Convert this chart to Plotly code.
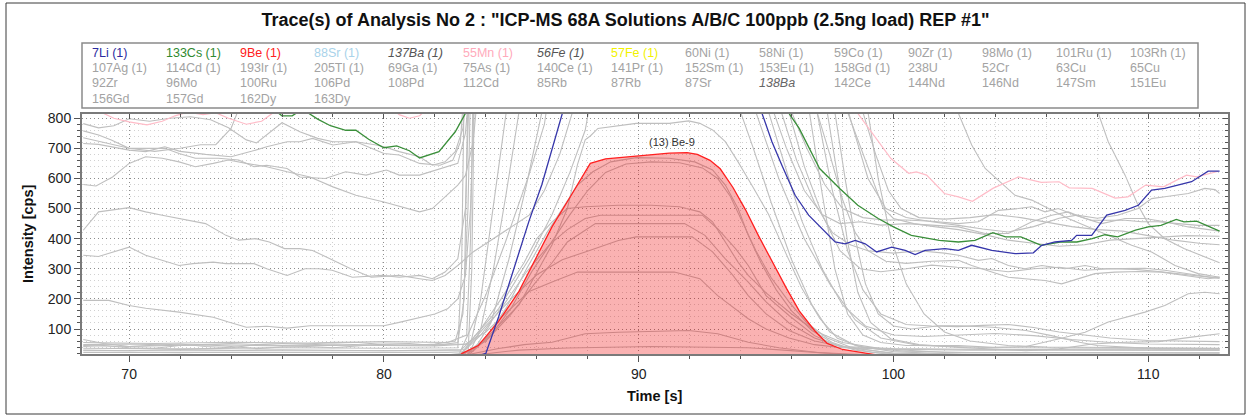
import plotly.graph_objects as go

FONT = "Liberation Sans, Arial, sans-serif"
TITLE = 'Trace(s) of Analysis No 2 : "ICP-MS 68A Solutions A/B/C 100ppb (2.5ng load) REP #1"'
X_TITLE = "Time [s]"
Y_TITLE = "Intensity [cps]"
PEAK_LABEL = "(13) Be-9"
X_RANGE = [68.15, 113.13]
Y_RANGE = [17, 814]

# ---------------- legend texts ----------------
legend_row1 = ["7Li (1)", "133Cs (1)", "9Be (1)", "88Sr (1)", "<i>137Ba (1)</i>", "55Mn (1)",
               "<i>56Fe (1)</i>", "57Fe (1)", "60Ni (1)", "58Ni (1)", "59Co (1)", "90Zr (1)",
               "98Mo (1)", "101Ru (1)", "103Rh (1)"]
legend_row1_colors = ["#2b2ba0", "#2f8a2f", "#ff2020", "#a9d3ea", "#555555", "#ffaabb",
                      "#555555", "#f2f200", "#a3a3a3", "#a3a3a3", "#a3a3a3", "#a3a3a3",
                      "#a3a3a3", "#a3a3a3", "#a3a3a3"]
legend_row2 = ["107Ag (1)", "114Cd (1)", "193Ir (1)", "205Tl (1)", "69Ga (1)", "75As (1)",
               "140Ce (1)", "141Pr (1)", "152Sm (1)", "153Eu (1)", "158Gd (1)", "238U",
               "52Cr", "63Cu", "65Cu"]
legend_row3 = ["92Zr", "96Mo", "100Ru", "106Pd", "108Pd", "112Cd", "85Rb", "87Rb", "87Sr",
               "<i>138Ba</i>", "142Ce", "144Nd", "146Nd", "147Sm", "151Eu"]
legend_row4 = ["156Gd", "157Gd", "162Dy", "163Dy"]

# ---------------- coloured traces ----------------
t_li = [68.2, 83.0, 83.6, 84.0, 84.5, 85.2, 85.7, 86.2, 86.6, 87.0, 87.3, 94.6, 94.84, 95.23,
        95.62, 96.14, 96.67, 97.19, 97.71, 98.1, 98.5, 98.89, 99.34, 99.93, 100.46, 100.85,
        101.24, 102.02, 102.55, 103.07, 103.86, 104.77, 105.49, 105.82, 106.34, 106.99,
        107.19, 107.78, 108.37, 109.09, 109.61, 110.13, 110.65, 111.7, 112.35, 112.8]
v_li = [5, 5, 8, 19, 140, 330, 460, 580, 700, 815, 900, 900, 816, 722,
        644, 544, 478, 433, 389, 383, 394, 383, 356, 372, 361, 347,
        361, 367, 361, 378, 361, 350, 353, 378, 389, 394,
        411, 411, 478, 494, 511, 561, 567, 589, 624, 624]

t_cs = [68.2, 75.5, 76.0, 76.4, 76.8, 77.06, 77.4, 77.9, 78.5, 78.9, 79.4, 80.0, 80.5, 81.0,
        81.4, 82.16, 82.8, 83.2, 83.5, 95.6, 95.9, 96.3, 97.1, 97.9, 98.6, 99.4, 100.0,
        100.7, 101.8, 102.55, 103.2, 103.9, 104.4, 105.0, 105.8, 106.6, 107.2, 107.8,
        108.3, 108.8, 109.5, 110.0, 110.5, 111.1, 111.4, 111.9, 112.4, 112.8]
v_cs = [900, 840, 808, 808, 830, 816, 797, 775, 760, 760, 730, 702, 708, 692,
        668, 689, 755, 816, 900, 900, 816, 766, 633, 566, 511, 467, 439,
        411, 394, 389, 394, 420, 406, 406, 378, 389, 389, 400,
        413, 406, 428, 439, 444, 464, 456, 458, 439, 425]

t_mn = [68.2, 68.9, 69.4, 70.0, 70.7, 71.3, 71.8, 72.3, 72.9, 73.4, 73.9, 74.6, 75.2, 75.6,
        76.0, 80.0, 80.6, 81.0, 81.4, 81.8, 82.5, 98.3, 98.6, 99.4, 99.9, 100.6, 100.9,
        101.3, 102.0, 102.55, 103.1, 103.9, 104.9, 105.8, 106.5, 106.9, 107.8, 108.7,
        109.2, 109.9, 110.6, 111.5, 111.9, 112.75]
v_mn = [860, 820, 800, 788, 778, 790, 808, 820, 812, 818, 800, 780, 790, 815,
        860, 850, 812, 800, 808, 840, 900, 900, 816, 722, 666, 617, 622,
        611, 550, 539, 524, 567, 605, 587, 589, 569, 567, 535,
        539, 578, 572, 611, 605, 624]

t_be = [82.8, 83.07, 83.7, 84.5, 85.3, 85.95, 86.6, 87.25, 87.8, 88.1, 88.7, 89.9, 91.2,
        91.9, 92.3, 92.8, 93.2, 93.7, 94.2, 94.7, 95.25, 95.8, 96.3, 96.9, 97.4, 98.0,
        98.9, 99.5, 99.8]
v_be = [0, 19, 45, 125, 225, 335, 440, 530, 610, 650, 665, 675, 684,
        686, 680, 660, 632, 570, 495, 410, 322, 235, 160, 95, 52, 32,
        20, 12, 0]

# ---------------- grey traces ----------------
t_g01 = [68.2, 68.8, 69.4, 70.0, 70.8, 71.6, 72.4, 73.2, 73.9, 74.6, 75.0, 75.5, 76.0, 76.7,
         77.4, 78.0, 78.9, 79.7, 80.0, 80.6, 81.4, 81.9, 82.4, 82.8, 83.1, 83.25, 107.8,
         108.04, 108.43, 109.09, 109.6, 110.0, 110.65, 111.4, 112.2, 112.8]
v_g01 = [782, 768, 775, 798, 790, 800, 805, 795, 768, 728, 718, 750, 785, 755,
         733, 722, 722, 711, 705, 689, 672, 644, 655, 689, 766, 900, 900,
         816, 722, 611, 511, 450, 400, 367, 339, 320]

t_g02 = [68.2, 68.8, 69.3, 70.0, 71.4, 71.96, 72.6, 73.5, 74.3, 74.9, 75.4, 76.2, 76.7, 77.7,
         78.5, 79.3, 80.1, 80.6, 81.4, 82.3, 82.9, 83.2, 83.35, 95.8, 96.0, 96.6, 97.3,
         98.0, 98.8, 99.6, 100.5, 101.5, 102.55, 103.33, 104.12, 104.9, 105.43, 105.95,
         106.47, 107.13, 107.78, 108.43, 109.09, 109.74, 110.39, 111.18, 111.96, 112.8]
v_g02 = [758, 744, 728, 700, 700, 683, 667, 667, 661, 639, 644, 633, 605, 600,
         622, 611, 628, 611, 611, 633, 650, 750, 900, 900, 820, 700, 580,
         500, 470, 462, 462, 458, 450, 456, 494, 500, 506, 489,
         500, 478, 461, 461, 461, 456, 456, 450, 444, 444]

t_g03 = [68.2, 68.8, 70.0, 70.65, 71.4, 72.0, 73.0, 74.0, 74.8, 75.4, 76.2, 76.7, 77.2, 78.0,
         78.9, 80.0, 80.6, 81.4, 82.2, 82.7, 83.0, 83.15, 98.0, 98.3, 99.0, 99.7, 100.5,
         101.5, 102.55, 103.5, 104.5, 105.5, 106.5, 107.2, 108.0, 108.8, 109.6, 110.13,
         110.65, 111.57, 112.22, 112.62, 112.8]
v_g03 = [716, 713, 694, 689, 705, 690, 680, 672, 690, 705, 722, 722, 733, 711,
         722, 683, 678, 650, 644, 660, 720, 900, 900, 800, 600, 500, 470,
         456, 444, 432, 422, 440, 468, 478, 468, 478, 500, 533,
         539, 550, 567, 563, 550]

t_g04 = [68.2, 68.7, 69.35, 70.0, 70.65, 71.3, 71.96, 72.6, 73.3, 73.9, 74.6, 75.4, 76.2,
         77.1, 78.0, 78.9, 80.0, 80.7, 81.4, 81.9, 82.4, 82.9, 83.2, 83.5, 83.7, 95.1, 95.3,
         95.8, 96.5, 97.2, 97.9, 98.7, 99.5, 100.5, 101.5, 102.55, 103.6, 104.51, 105.43,
         106.21, 106.86, 107.52, 108.17, 109.09, 109.87, 110.65, 111.57, 112.48, 112.8]
v_g04 = [580, 575, 605, 650, 672, 667, 655, 639, 650, 661, 650, 639, 622,
         605, 572, 544, 522, 505, 489, 500, 539, 578, 610, 720, 900, 900, 820,
         700, 560, 480, 450, 456, 445, 450, 445, 439, 417, 417, 456,
         478, 489, 467, 450, 467, 467, 456, 439, 428, 425]

t_g05 = [68.2, 68.8, 70.0, 70.65, 71.3, 71.96, 73.0, 73.8, 74.3, 74.97, 75.5, 76.1, 76.7,
         77.2, 78.0, 78.7, 79.5, 80.6, 81.4, 81.9, 82.4, 82.9, 83.5, 84.5, 85.7, 86.3, 86.9,
         87.4, 87.7, 95.4, 95.6, 96.2, 96.9, 97.6, 98.3, 99.0, 100.0, 101.0, 102.0, 102.55,
         103.33, 103.86, 104.51, 105.16, 105.82, 106.73, 107.52, 108.17, 109.09, 109.87,
         110.65, 111.57, 112.48, 112.8]
v_g05 = [428, 489, 503, 489, 478, 467, 450, 411, 395, 400, 389, 367, 367,
         361, 328, 300, 272, 278, 267, 261, 278, 311, 356, 411, 478, 560, 680,
         820, 900, 900, 820, 660, 520, 420, 380, 360, 352, 360, 352, 345,
         328, 334, 311, 300, 311, 300, 311, 300, 300, 302,
         295, 284, 272, 272]

t_g06 = [68.2, 68.8, 70.0, 70.65, 71.96, 72.5, 73.3, 73.8, 74.9, 75.4, 76.2, 76.9, 77.45,
         77.97, 78.76, 79.94, 80.6, 81.4, 81.9, 82.4, 82.9, 83.2, 83.35, 96.8, 97.0, 97.5,
         98.0, 98.5, 99.0, 99.7, 100.5, 101.5, 102.55, 103.07, 103.86, 104.51, 105.16,
         105.95, 106.6, 107.26, 107.91, 108.69, 109.61, 110.52, 111.44, 112.35, 112.8]
v_g06 = [345, 341, 372, 345, 311, 317, 322, 317, 317, 300, 278, 300, 300,
         295, 272, 278, 272, 278, 267, 289, 333, 500, 900, 900, 820, 680,
         530, 420, 360, 325, 318, 325, 328, 311, 289, 272, 267,
         261, 250, 267, 284, 289, 291, 289, 278, 267, 272]

t_g07 = [68.2, 69.2, 70.0, 70.65, 71.96, 73.3, 73.9, 74.6, 75.4, 76.2, 77.1, 78.7, 80.0,
         80.6, 81.4, 82.0, 82.5, 82.9, 83.2, 83.4, 83.55, 102.4, 102.55, 103.07, 103.6,
         104.12, 104.77, 105.43, 106.08, 106.86, 107.65, 108.43, 109.35, 110.13, 111.05,
         111.96, 112.8]
v_g07 = [195, 195, 178, 169, 156, 139, 123, 106, 109, 103, 111, 111, 111,
         122, 139, 150, 167, 200, 278, 500, 900, 900, 816, 711, 633,
         594, 544, 528, 500, 467, 439, 411, 378, 356, 311,
         284, 272]

t_g08 = [68.2, 69.0, 70.0, 71.0, 72.0, 73.0, 74.0, 75.0, 76.0, 77.0, 78.0, 79.0, 80.0, 81.0,
         82.0, 82.8, 83.1, 83.3, 83.4, 97.5, 97.7, 98.1, 98.5, 98.9, 99.4, 100.0, 100.7,
         101.8, 102.55, 103.9, 105.2, 106.2, 107.3, 108.0, 109.1, 110.4, 111.7, 112.8]
v_g08 = [65, 52, 42, 45, 50, 42, 38, 48, 52, 50, 56, 55, 48, 45,
         50, 60, 150, 500, 900, 900, 820, 600, 400, 250, 150, 110, 100,
         111, 111, 106, 95, 78, 56, 45, 39, 34, 34, 34]

t_g09 = [68.2, 69.0, 70.0, 71.0, 72.0, 73.0, 74.0, 75.0, 76.0, 77.0, 78.0, 79.0, 80.0, 81.0,
         82.0, 82.9, 83.15, 83.3, 96.5, 96.7, 97.2, 97.7, 98.2, 98.8, 99.5, 100.5, 102.55,
         103.9, 105.2, 106.47, 107.52, 108.43, 109.09, 109.87, 110.65, 111.57, 112.22, 112.8]
v_g09 = [42, 45, 38, 36, 45, 48, 42, 35, 40, 42, 38, 45, 50, 52,
         45, 55, 200, 900, 900, 820, 550, 300, 150, 80, 55, 45, 45,
         39, 42, 67, 89, 123, 139, 156, 178, 217, 222, 217]

t_g10 = [68.2, 70.0, 72.0, 74.0, 76.0, 78.0, 80.0, 82.0, 83.3, 83.45, 83.55, 97.2, 97.4,
         97.8, 98.2, 98.6, 99.1, 99.9, 101.0, 102.55, 104.0, 105.2, 106.5, 107.8, 109.1,
         110.4, 111.7, 112.8]
v_g10 = [12, 10, 13, 9, 12, 10, 11, 12, 14, 300, 900, 900, 820,
         611, 389, 222, 122, 67, 48, 39, 32, 28, 34, 50, 56,
         58, 73, 84]

t_g11 = [68.2, 73.0, 78.0, 83.0, 84.0, 85.3, 87.2, 90.5, 94.3, 96.0, 98.0, 100.0, 103.0,
         106.0, 110.0, 112.8]
v_g11 = [8, 9, 8, 9, 18, 30, 37, 42, 38, 28, 16, 10, 8,
         8, 8, 8]

t_g12 = [68.2, 70.0, 72.0, 74.0, 76.0, 78.0, 80.0, 82.0, 83.3, 84.5, 85.5, 86.6, 87.9, 89.2,
         91.96, 93.1, 94.3, 95.5, 97.0, 99.0, 102.0, 106.0, 110.0, 112.8]
v_g12 = [12, 11, 13, 12, 13, 14, 12, 13, 15, 35, 48, 56, 84, 89,
         95, 84, 56, 38, 22, 14, 12, 11, 11, 11]

t_g13 = [68.2, 70.0, 72.0, 74.0, 76.0, 78.0, 80.0, 82.0, 83.2, 84.0, 85.0, 85.7, 86.6, 87.6,
         89.2, 91.4, 92.4, 93.1, 94.3, 95.0, 95.9, 96.9, 98.0, 100.0, 103.0, 107.0, 112.8]
v_g13 = [48, 50, 46, 52, 45, 50, 46, 48, 50, 90, 170, 225, 256, 289,
         289, 289, 267, 211, 134, 100, 70, 48, 38, 33, 30, 30, 30]

t_g14 = [68.2, 70.0, 72.0, 74.0, 76.0, 78.0, 80.0, 82.0, 83.2, 84.0, 85.0, 86.0, 87.0, 87.9,
         89.2, 89.9, 92.1, 92.9, 93.7, 94.3, 95.0, 95.9, 96.9, 98.0, 100.0, 104.0, 112.8]
v_g14 = [30, 28, 32, 29, 31, 30, 28, 30, 32, 110, 200, 280, 330, 356,
         394, 406, 406, 356, 278, 211, 150, 95, 60, 42, 35, 32, 30]

t_g15 = [68.2, 72.0, 76.0, 80.0, 83.0, 84.0, 85.0, 86.0, 86.6, 87.2, 88.3, 91.8, 92.6, 93.4,
         94.3, 95.0, 95.9, 96.9, 98.0, 100.0, 104.0, 112.8]
v_g15 = [10, 11, 10, 12, 12, 60, 150, 260, 320, 389, 450, 450, 411, 333,
         256, 190, 120, 70, 40, 20, 12, 10]

t_g16 = [68.2, 72.0, 76.0, 80.0, 83.0, 83.8, 84.7, 85.6, 86.5, 87.2, 87.9, 88.5, 92.5, 93.1,
         93.8, 94.3, 95.0, 95.9, 96.9, 97.8, 99.2, 101.0, 112.8]
v_g16 = [14, 12, 13, 14, 15, 80, 180, 290, 380, 430, 467, 478, 478, 433,
         367, 311, 211, 145, 78, 45, 22, 14, 12]

t_g17 = [68.2, 70.0, 72.0, 74.0, 76.0, 78.0, 80.0, 82.0, 83.0, 83.8, 84.6, 85.5, 86.0, 86.6,
         87.2, 87.9, 89.2, 90.5, 91.6, 92.4, 92.9, 93.4, 93.9, 94.3, 95.0, 96.0, 97.0, 98.0,
         99.5, 102.0, 112.8]
v_g17 = [15, 14, 16, 13, 15, 14, 13, 15, 16, 100, 200, 320, 400, 456,
         500, 506, 511, 511, 506, 489, 456, 389, 322, 278, 220, 150, 90, 55,
         35, 22, 20]

t_g18 = [68.2, 72.0, 76.0, 80.0, 83.2, 84.0, 84.8, 85.6, 86.4, 87.0, 87.6, 88.2, 88.9, 89.9,
         91.2, 92.2, 92.9, 93.4, 93.9, 94.3, 94.8, 95.4, 96.0, 96.8, 97.6, 98.5, 100.0, 112.8]
v_g18 = [9, 8, 9, 8, 10, 70, 170, 300, 420, 500, 578, 622, 655, 669,
         667, 655, 628, 578, 500, 411, 320, 230, 160, 95, 55, 30, 14, 10]

t_g19 = [68.2, 72.0, 76.0, 80.0, 83.3, 84.2, 85.0, 85.8, 86.6, 87.3, 88.0, 88.7, 89.5, 90.5,
         91.6, 92.5, 93.1, 93.6, 94.1, 94.6, 95.2, 95.9, 96.6, 97.4, 98.3, 100.0, 112.8]
v_g19 = [11, 12, 10, 12, 12, 80, 170, 290, 390, 480, 560, 620, 648, 655,
         652, 635, 600, 540, 450, 360, 270, 190, 120, 70, 40, 18, 12]

t_g20 = [68.2, 75.0, 82.0, 83.2, 84.0, 85.3, 86.0, 86.6, 87.2, 87.6, 87.9, 88.1, 88.4, 89.1,
         89.9, 91.2, 91.96, 92.4, 92.9, 93.4, 93.9, 94.5, 95.1, 95.8, 96.4, 97.1, 97.8, 98.8,
         100.5, 103.0, 107.0, 112.8]
v_g20 = [10, 11, 10, 20, 69, 180, 290, 380, 500, 647, 728, 741, 766, 774,
         783, 783, 791, 783, 761, 722, 655, 569, 480, 347, 236, 136, 69, 38,
         26, 22, 21, 21]

t_g21 = [68.2, 75.0, 82.0, 83.3, 83.8, 84.3, 84.8, 85.3, 85.5, 93.8, 94.0, 94.5, 95.2, 96.0,
         96.8, 97.5, 98.5, 100.0, 103.0, 108.0, 112.8]
v_g21 = [8, 9, 8, 12, 100, 300, 550, 820, 900, 900, 820, 700, 520, 330,
         180, 90, 45, 25, 14, 10, 9]

t_g22 = [68.2, 76.0, 82.5, 83.5, 84.2, 84.9, 85.6, 86.2, 86.4, 94.4, 94.6, 95.5, 96.5, 97.5,
         98.5, 99.5, 101.0, 104.0, 108.0, 112.8]
v_g22 = [22, 23, 22, 26, 120, 330, 580, 820, 900, 900, 820, 600, 400, 250,
         130, 70, 45, 38, 36, 35]

t_g23 = [68.2, 70.0, 73.0, 76.0, 79.0, 82.0, 83.4, 83.8, 84.2, 84.6, 84.8, 85.0, 94.9, 95.1,
         95.7, 96.4, 97.2, 98.0, 98.9, 100.0, 101.2, 102.5, 104.0, 105.5, 107.0, 108.5,
         110.0, 112.8]
v_g23 = [45, 42, 48, 44, 46, 44, 50, 200, 450, 700, 820, 900, 900, 820,
         650, 460, 300, 180, 110, 80, 75, 80, 85, 78, 65, 55,
         50, 48]

t_g24 = [68.2, 76.0, 82.5, 82.94, 83.99, 84.77, 85.69, 86.3, 86.5, 95.6, 95.9, 96.5, 97.2,
         97.9, 98.7, 99.5, 100.5, 101.5, 102.5, 103.5, 104.5, 105.5, 106.5, 107.5, 108.5,
         109.5, 110.5, 111.5, 112.8]
v_g24 = [12, 13, 12, 14, 211, 389, 611, 780, 900, 900, 820, 640, 480,
         360, 300, 290, 300, 312, 305, 300, 290, 300, 305, 295, 300,
         298, 290, 280, 268]

t_g25 = [68.2, 80.0, 83.0, 83.47, 84.5, 85.7, 86.6, 87.3, 87.9, 88.2, 96.8, 97.0, 97.6,
         98.2, 98.8, 99.5, 100.5, 101.5, 102.5, 103.5, 104.5, 105.5, 106.5, 107.5, 108.5,
         110.0, 111.5, 112.8]
v_g25 = [28, 27, 28, 67, 167, 333, 480, 620, 760, 900, 900, 820, 560,
         360, 230, 150, 115, 110, 108, 112, 115, 105, 90, 80, 70,
         62, 60, 58]

t_g26 = [68.2, 72.0, 76.0, 80.0, 82.9, 83.05, 83.15, 98.8, 99.0, 99.4, 99.9, 100.5, 101.2,
         102.0, 103.0, 104.5, 106.0, 109.0, 112.8]
v_g26 = [36, 34, 38, 36, 38, 300, 900, 900, 820, 600, 400, 250, 150,
         90, 60, 45, 40, 38, 36]

t_g27 = [68.2, 71.0, 74.0, 77.0, 80.0, 82.5, 83.25, 83.4, 83.5, 97.9, 98.2, 99.1, 99.6,
         100.0, 100.8, 101.6, 102.55, 103.5, 104.5, 105.5, 106.5, 107.5, 108.5, 109.5,
         110.5, 111.5, 112.8]
v_g27 = [55, 52, 56, 53, 58, 55, 80, 400, 900, 900, 820, 611, 500,
         467, 450, 440, 430, 415, 395, 385, 375, 380, 395, 400,
         405, 410, 408]

t_g28 = [68.2, 69.0, 70.0, 71.0, 72.0, 72.8, 73.4, 74.0, 74.3, 74.5, 98.5, 98.8, 99.3, 99.8,
         100.3, 101.0, 102.0, 103.0, 104.0, 105.0, 106.0, 107.0, 108.0, 109.0, 110.0,
         111.0, 112.0, 112.8]
v_g28 = [735, 720, 700, 690, 700, 712, 712, 766, 830, 900, 900, 820, 680, 560,
         500, 470, 465, 470, 480, 470, 455, 440, 430, 425, 410,
         395, 385, 380]

grey_series = [
    (t_g01, v_g01), (t_g02, v_g02), (t_g03, v_g03), (t_g04, v_g04), (t_g05, v_g05),
    (t_g06, v_g06), (t_g07, v_g07), (t_g08, v_g08), (t_g09, v_g09), (t_g10, v_g10),
    (t_g11, v_g11), (t_g12, v_g12), (t_g13, v_g13), (t_g14, v_g14), (t_g15, v_g15),
    (t_g16, v_g16), (t_g17, v_g17), (t_g18, v_g18), (t_g19, v_g19), (t_g20, v_g20),
    (t_g21, v_g21), (t_g22, v_g22), (t_g23, v_g23), (t_g24, v_g24), (t_g25, v_g25),
    (t_g26, v_g26), (t_g27, v_g27), (t_g28, v_g28),
]

fig = go.Figure()

for t, v in grey_series:
    fig.add_trace(go.Scatter(x=t, y=v, mode="lines", showlegend=False, hoverinfo="skip",
                             line=dict(color="#bfbfbf", width=1.1)))

fig.add_trace(go.Scatter(x=t_be, y=v_be, mode="lines", fill="tozeroy",
                         fillcolor="rgba(240,0,0,0.30)", showlegend=False, name="9Be (1)",
                         line=dict(color="#ff2020", width=1.3)))
fig.add_trace(go.Scatter(x=t_mn, y=v_mn, mode="lines", showlegend=False, name="55Mn (1)",
                         line=dict(color="#ffbcc8", width=1.2)))
fig.add_trace(go.Scatter(x=t_cs, y=v_cs, mode="lines", showlegend=False, name="133Cs (1)",
                         line=dict(color="#3a8f3a", width=1.3)))
fig.add_trace(go.Scatter(x=t_li, y=v_li, mode="lines", showlegend=False, name="7Li (1)",
                         line=dict(color="#3636aa", width=1.3)))
# helper trace for the mirrored (inside) ticks on top / right
fig.add_trace(go.Scatter(x=[None], y=[None], xaxis="x2", yaxis="y2", showlegend=False,
                         hoverinfo="skip"))

# ---------------- layout geometry ----------------
L, R, T, B = 82, 23, 114, 63
W, H = 1251, 417
PW, PH = W - L - R, H - T - B


def px_x(x):
    return (x - L) / PW


def px_y(y):
    return (H - B - y) / PH


shapes = [
    # outer frame
    dict(type="rect", xref="paper", yref="paper", x0=px_x(6), x1=px_x(1245),
         y0=px_y(414), y1=px_y(3), line=dict(color="#3a3a3a", width=1)),
    # legend box
    dict(type="rect", xref="paper", yref="paper", x0=px_x(82), x1=px_x(1198),
         y0=px_y(108), y1=px_y(43), line=dict(color="#8a8a8a", width=1.5)),
]

annotations = []
rows = [legend_row1, legend_row2, legend_row3, legend_row4]
row_y = [53.3, 68.3, 83.3, 99.0]
for r, (labels, yy) in enumerate(zip(rows, row_y)):
    for i, lab in enumerate(labels):
        col = legend_row1_colors[i] if r == 0 else "#a3a3a3"
        if lab.startswith("<i>") and r > 0:
            col = "#666666"
        annotations.append(dict(text=lab, xref="paper", yref="paper",
                                x=px_x(89.5 + 74.2 * i), y=px_y(yy), xanchor="left",
                                yanchor="middle", showarrow=False,
                                font=dict(family=FONT, size=12.5, color=col)))

annotations.append(dict(text=PEAK_LABEL, x=91.3, y=722, xref="x", yref="y", showarrow=False,
                        font=dict(family=FONT, size=11, color="#333333")))
annotations.append(dict(text="<b>" + X_TITLE + "</b>", xref="paper", yref="paper", x=0.5,
                        y=px_y(396), showarrow=False, xanchor="center", yanchor="middle",
                        font=dict(family=FONT, size=14.5, color="#111111")))
annotations.append(dict(text="<b>" + Y_TITLE + "</b>", xref="paper", yref="paper",
                        x=px_x(28), y=0.5, showarrow=False, textangle=-90,
                        xanchor="center", yanchor="middle",
                        font=dict(family=FONT, size=14.5, color="#111111")))

major_grid = dict(showgrid=True, gridcolor="#8c8c8c", griddash="1px,3px", gridwidth=1)

fig.update_layout(
    width=W, height=H,
    margin=dict(l=L, r=R, t=T, b=B, pad=0),
    paper_bgcolor="white", plot_bgcolor="white",
    title=dict(text="<b>" + TITLE + "</b>", x=0.5, xanchor="center", y=1 - 20 / H,
               yanchor="middle", font=dict(family=FONT, size=18, color="#111111")),
    showlegend=False,
    xaxis=dict(range=X_RANGE, dtick=10, tick0=0, ticks="outside", ticklen=6, tickwidth=1,
               tickcolor="#555555", showline=True, linecolor="#7a7a7a", linewidth=2,
               mirror=True, zeroline=False,
               tickfont=dict(family=FONT, size=14, color="#222222"),
               minor=dict(dtick=2, tick0=0, ticks="outside", ticklen=3, tickcolor="#555555",
                          showgrid=True, gridcolor="#d0d0d0", griddash="1px,3px"),
               **major_grid),
    yaxis=dict(range=Y_RANGE, dtick=100, tick0=0, ticks="outside", ticklen=6, tickwidth=1,
               tickcolor="#555555", showline=True, linecolor="#7a7a7a", linewidth=2,
               mirror=True, zeroline=False,
               tickfont=dict(family=FONT, size=14, color="#222222"),
               minor=dict(dtick=20, tick0=0, ticks="outside", ticklen=3, tickcolor="#555555",
                          showgrid=True, gridcolor="#d0d0d0", griddash="1px,3px"),
               **major_grid),
    xaxis2=dict(range=X_RANGE, overlaying="x", side="top", anchor="y", dtick=10, tick0=0,
                ticks="inside", ticklen=5, tickcolor="#555555", showticklabels=False,
                showgrid=False, zeroline=False, showline=False,
                minor=dict(dtick=2, tick0=0, ticks="inside", ticklen=3, tickcolor="#555555")),
    yaxis2=dict(range=Y_RANGE, overlaying="y", side="right", anchor="x", dtick=100, tick0=0,
                ticks="inside", ticklen=5, tickcolor="#555555", showticklabels=False,
                showgrid=False, zeroline=False, showline=False,
                minor=dict(dtick=20, tick0=0, ticks="inside", ticklen=3, tickcolor="#555555")),
    shapes=shapes,
    annotations=annotations,
)

fig.write_html("out.html")
